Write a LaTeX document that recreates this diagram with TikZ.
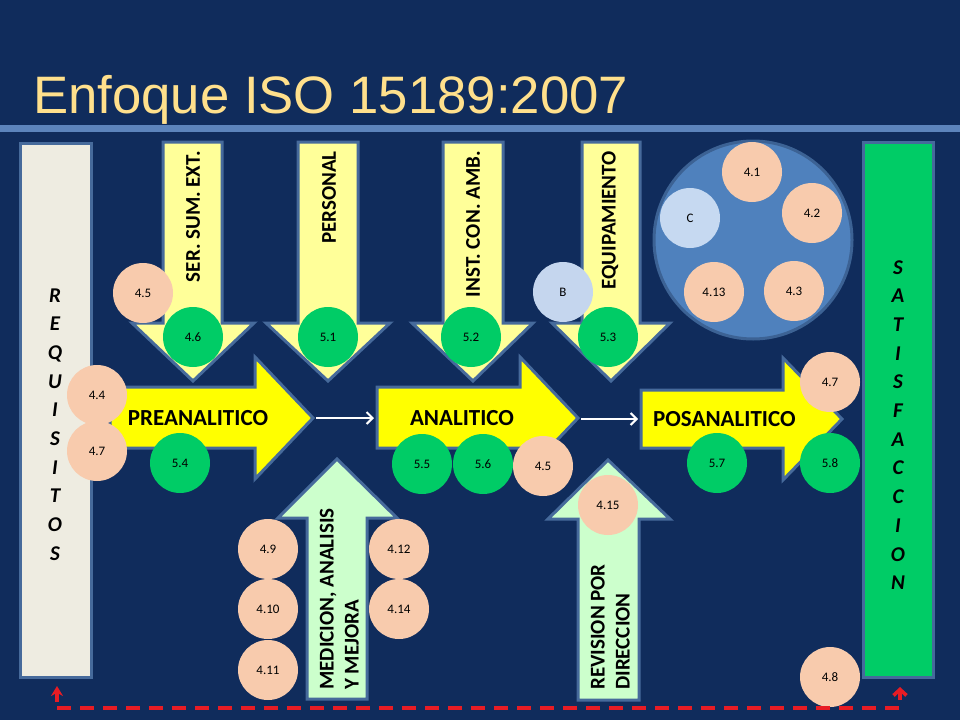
\documentclass[tikz,border=0pt]{standalone}
\usepackage{fontspec}
\setmainfont{Carlito}
\newfontfamily\titlefont{Liberation Sans}
\usetikzlibrary{arrows.meta}
\definecolor{bg}{RGB}{16,44,92}
\definecolor{barcol}{RGB}{92,132,188}
\definecolor{titlecol}{RGB}{255,224,140}
\definecolor{lyellow}{RGB}{255,255,153}
\definecolor{yel}{RGB}{255,255,0}
\definecolor{lgreen}{RGB}{204,255,204}
\definecolor{cgreen}{RGB}{0,204,102}
\definecolor{peach}{RGB}{248,203,173}
\definecolor{lblue}{RGB}{197,214,238}
\definecolor{cblue}{RGB}{198,217,241}
\definecolor{bigblue}{RGB}{79,129,189}
\definecolor{bigborder}{RGB}{60,98,148}
\definecolor{beige}{RGB}{238,236,225}
\definecolor{edge}{RGB}{70,106,155}
\definecolor{dred}{RGB}{232,28,36}
\tikzset{
  circ/.style={circle, minimum size=60pt, inner sep=0pt, font=\fontsize{13}{13}\selectfont, text=black},
  pch/.style={circ, fill=peach},
  grn/.style={circ, fill=cgreen},
  lbc/.style={circ, fill=lblue},
  dnarrow/.style={fill=lyellow, draw=edge, line width=3pt, line join=miter},
  rtarrow/.style={fill=yel, draw=edge, line width=3pt, line join=miter},
  uparrow/.style={fill=lgreen, draw=edge, line width=3pt, line join=miter},
  vlabel/.style={rotate=90, font=\bfseries\fontsize{21}{25}\selectfont, text=black, inner sep=0pt},
  hlabel/.style={font=\bfseries\fontsize{23}{23}\selectfont, text=black, inner sep=0pt},
  lett/.style={font=\bfseries\itshape\fontsize{21}{21}\selectfont, text=black, inner sep=0pt, anchor=base},
  colbar/.style={draw=edge, line width=3pt},
  flow/.style={white, line width=2pt, -{Straight Barb[length=6pt,width=12pt,line width=2pt]}},
  fb/.style={dred, line width=3.6pt},
}
\begin{document}
\begin{tikzpicture}[x=1pt,y=-1pt]
\useasboundingbox (0,0) rectangle (960,720);
\fill[bg] (0,0) rectangle (960,720);
% title and bar
\node[anchor=base west, font=\titlefont\fontsize{52.7}{52.7}\selectfont, text=titlecol, inner sep=0pt] (title) at (33,113) {Enfoque ISO 15189:2007};
\fill[barcol] (0,125) rectangle (960,132);
% side bars
\draw[colbar, fill=beige] (20,143) rectangle (91,677);
\draw[colbar, fill=cgreen] (863,142) rectangle (933,677);
\foreach \l [count=\i] in {R,E,Q,U,I,S,I,T,O,S}
  \node[lett] (req\i) at (55,{302+(\i-1)*28.7}) {\l};
\foreach \l [count=\i] in {S,A,T,I,S,F,A,C,C,I,O,N}
  \node[lett] (sat\i) at (898,{274+(\i-1)*28.7}) {\l};
% down arrows
\draw[dnarrow] (163,142) -- (222,142) -- (222,323) -- (254,323) -- (193,381) -- (132,323) -- (163,323) -- cycle;
\draw[dnarrow] (298,142) -- (358,142) -- (358,323) -- (390,323) -- (328,381) -- (266,323) -- (298,323) -- cycle;
\draw[dnarrow] (443,142) -- (503,142) -- (503,323) -- (533,323) -- (473,381) -- (412,323) -- (443,323) -- cycle;
\draw[dnarrow] (582,142) -- (640,142) -- (640,323) -- (670,323) -- (611,381) -- (552,323) -- (582,323) -- cycle;
\node[vlabel, anchor=east] (ser) at (193,151) {SER. SUM. EXT.};
\node[vlabel, anchor=east] (pers) at (329,151) {PERSONAL};
\node[vlabel, anchor=east] (inst) at (473,151) {INST. CON. AMB.};
\node[vlabel, anchor=east] (equi) at (610,151) {EQUIPAMIENTO};
% right arrows
\draw[rtarrow] (110,387) -- (255,387) -- (255,357) -- (313,418) -- (255,479) -- (255,448) -- (110,448) -- cycle;
\draw[rtarrow] (377,387) -- (520,387) -- (520,357) -- (578,418) -- (520,479) -- (520,448) -- (377,448) -- cycle;
\draw[rtarrow] (641,390) -- (783,390) -- (783,358) -- (842,419) -- (783,480) -- (783,448) -- (641,448) -- cycle;
\coordinate (pretip) at (316,418);
\coordinate (anastart) at (374,418);
\coordinate (anatip) at (581,419);
\coordinate (posstart) at (638,419);
\draw[flow] (pretip) -- (anastart);
\draw[flow] (anatip) -- (posstart);
\node[hlabel] (pre) at (198,418) {PREANALITICO};
\node[hlabel] (ana) at (462,418) {ANALITICO};
\node[hlabel, anchor=west] (pos) at (653,419) {POSANALITICO};
% up arrows
\draw[uparrow] (307,699) -- (367,699) -- (367,518) -- (397,518) -- (337,459) -- (278,518) -- (307,518) -- cycle;
\draw[uparrow] (578,700) -- (639,700) -- (639,519) -- (670,519) -- (608,460) -- (548,519) -- (578,519) -- cycle;
\node[vlabel, anchor=south west, align=left] (med) at (359,690) {MEDICION, ANALISIS\\Y MEJORA};
\node[vlabel, anchor=south west, align=left] (rev) at (630,690) {REVISION POR\\DIRECCION};
% big circle
\draw[fill=bigblue, draw=bigborder, line width=3pt] (753,240) circle (99);
\node[pch] (c41) at (752,172) {4.1};
\node[pch] (c42) at (812,213) {4.2};
\node[pch] (c43) at (794,291) {4.3};
\node[pch] (c413) at (714,292) {4.13};
\node[circ, fill=cblue] (cC) at (690,218) {C};
% circles on top arrows
\node[pch] (c45a) at (143,293) {4.5};
\node[grn] (c46) at (193,337) {4.6};
\node[grn] (c51) at (328,337) {5.1};
\node[grn] (c52) at (471,337) {5.2};
\node[lbc] (cB) at (563,292) {B};
\node[grn] (c53) at (608,337) {5.3};
% circles near flow
\node[pch] (c44) at (97,395) {4.4};
\node[pch] (c47a) at (97,451) {4.7};
\node[grn] (c54) at (180,463) {5.4};
\node[grn] (c55) at (422,464) {5.5};
\node[grn] (c56) at (483,464) {5.6};
\node[pch] (c45b) at (543,466) {4.5};
\node[grn] (c57) at (717,463) {5.7};
\node[grn] (c58) at (830,463) {5.8};
\node[pch] (c47b) at (830,382) {4.7};
% circles near up arrows
\node[pch] (c49) at (268,549) {4.9};
\node[pch] (c410) at (268,609) {4.10};
\node[pch] (c411) at (268,670) {4.11};
\node[pch] (c412) at (399,549) {4.12};
\node[pch] (c414) at (399,609) {4.14};
\node[pch] (c415) at (608,505) {4.15};
\node[pch] (c48) at (830,677) {4.8};
% red dashed feedback
\coordinate (rl) at (57,686);
\coordinate (rb) at (57,708);
\coordinate (rr) at (900,708);
\coordinate (rt) at (900,687);
\draw[fb, dash pattern=on 14pt off 9pt] (rb) -- (rr) -- ([yshift=-6pt]rt);
\draw[fb, -{Stealth[length=10pt,width=12pt]}] ([yshift=-16pt]rl) -- (rl);
\draw[fb, -{Straight Barb[length=6pt,width=13pt,line width=3.6pt]}] ([yshift=-9pt]rt) -- (rt);
\end{tikzpicture}
\end{document}
